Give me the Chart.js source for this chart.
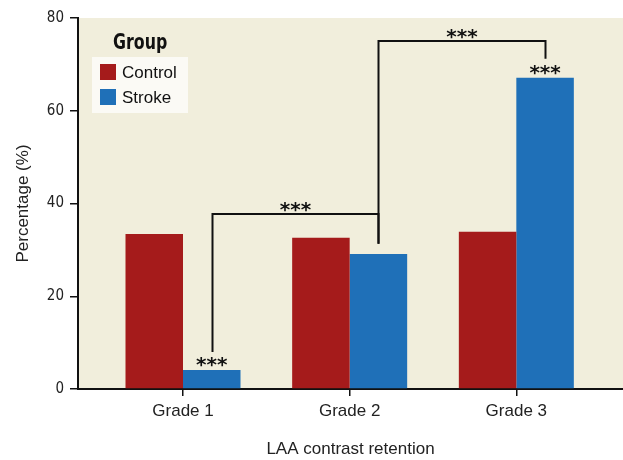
<!DOCTYPE html>
<html>
<head>
<meta charset="utf-8">
<script src="https://cdn.jsdelivr.net/npm/chart.js@4"></script>
<style>
  html, body { margin: 0; padding: 0; background: #fff; }
  #wrap { width: 623px; height: 460px; }
</style>
</head>
<body>
<div id="wrap"><canvas id="laaChart" width="623" height="460"></canvas></div>
<script>
const grades = ['Grade 1', 'Grade 2', 'Grade 3'];
const controlPct = [33.4, 32.6, 33.9];
const strokePct = [4.1, 29.1, 67.1];
const yTicks = [0, 20, 40, 60, 80];
// significance brackets: from (grade, stroke bar) to (grade, stroke bar), heights in %
const bracketFrom = [0, 1];
const bracketTo = [1, 2];
const bracketStart = [8.0, 31.3];
const bracketTop = [37.8, 75.0];
const bracketEnd = [31.3, 71.2];
const barStars = ['***', '', '***'];

const condensed = '"Liberation Sans Narrow", "DejaVu Sans Condensed", sans-serif';
const regular = '"Liberation Sans", Arial, sans-serif';

const bgPlugin = {
  id: 'bg',
  beforeDraw(chart) {
    const { ctx, chartArea: a } = chart;
    ctx.save();
    ctx.fillStyle = '#f1eedc';
    ctx.fillRect(a.left, a.top, a.right - a.left, a.bottom - a.top);
    ctx.restore();
  }
};

const marksPlugin = {
  id: 'marks',
  afterDatasetsDraw(chart) {
    const { ctx } = chart;
    const y = chart.scales.y;
    const meta = chart.getDatasetMeta(1);
    const cx = i => meta.data[i].x;

    ctx.save();
    ctx.strokeStyle = '#111';
    ctx.lineWidth = 2;
    ctx.fillStyle = '#111';
    ctx.font = 'bold 20px "DejaVu Sans", sans-serif';
    ctx.textAlign = 'center';
    ctx.textBaseline = 'alphabetic';
    for (let i = 0; i < bracketFrom.length; i++) {
      const x1 = Math.round(cx(bracketFrom[i])) + 0.5;
      const x2 = Math.round(cx(bracketTo[i])) + 0.5;
      const yt = Math.round(y.getPixelForValue(bracketTop[i]));
      ctx.beginPath();
      ctx.moveTo(x1, y.getPixelForValue(bracketStart[i]));
      ctx.lineTo(x1, yt);
      ctx.lineTo(x2, yt);
      ctx.lineTo(x2, y.getPixelForValue(bracketEnd[i]));
      ctx.stroke();
      ctx.fillText('***', (x1 + x2) / 2, yt + 2);
    }
    barStars.forEach((s, i) => {
      if (!s) return;
      ctx.fillText(s, cx(i), y.getPixelForValue(strokePct[i]) + 1);
    });

    // legend
    ctx.fillStyle = '#fbfaf5';
    ctx.fillRect(92, 57, 96, 56);
    ctx.fillStyle = '#111';
    ctx.save();
    ctx.translate(113, 49);
    ctx.scale(0.8, 1);
    ctx.font = 'bold 22px ' + condensed;
    ctx.textAlign = 'left';
    ctx.fillText('Group', 0, 0);
    ctx.restore();
    ctx.font = '17px ' + regular;
    ctx.textAlign = 'left';
    ctx.textBaseline = 'middle';
    chart.data.datasets.forEach((ds, i) => {
      const top = 64 + i * 25;
      ctx.fillStyle = ds.backgroundColor;
      ctx.fillRect(100, top, 16, 16);
      ctx.fillStyle = '#111';
      ctx.fillText(ds.label, 122, top + 9);
    });
    ctx.restore();
  }
};

new Chart(document.getElementById('laaChart'), {
  type: 'bar',
  data: {
    datasets: [
      {
        label: 'Control',
        data: controlPct.map((v, i) => ({ x: i, y: v })),
        backgroundColor: '#a51b1b'
      },
      {
        label: 'Stroke',
        data: strokePct.map((v, i) => ({ x: i, y: v })),
        backgroundColor: '#1f70b8'
      }
    ]
  },
  options: {
    responsive: false,
    animation: false,
    layout: { padding: { top: 18, right: 0, left: 0, bottom: 0 } },
    categoryPercentage: 0.69,
    barPercentage: 1.0,
    plugins: { legend: { display: false }, tooltip: { enabled: false } },
    scales: {
      x: {
        type: 'linear',
        offset: false,
        min: -0.63,
        max: 2.64,
        afterBuildTicks: s => { s.ticks = grades.map((g, i) => ({ value: i })); },
        afterFit: s => { s.height = 71; },
        ticks: {
          callback: v => grades[v],
          color: '#222',
          font: { family: regular, size: 17 },
          padding: 5,
          autoSkip: false,
          maxRotation: 0
        },
        grid: { offset: false, drawOnChartArea: false, drawTicks: true, tickLength: 7, color: '#111', lineWidth: 1.5 },
        border: { display: true, color: '#111', width: 2 },
        title: {
          display: true,
          text: 'LAA contrast retention',
          color: '#222',
          font: { family: regular, size: 17 },
          padding: { top: 18, bottom: 0 }
        }
      },
      y: {
        min: 0,
        max: 80,
        afterBuildTicks: s => { s.ticks = yTicks.map(v => ({ value: v })); },
        afterFit: s => { s.width = 78; },
        ticks: {
          color: '#222',
          font: { family: condensed, size: 15 },
          padding: 6
        },
        grid: { drawOnChartArea: false, drawTicks: true, tickLength: 8, color: '#111', lineWidth: 1.5 },
        border: { display: true, color: '#111', width: 2 },
        title: {
          display: true,
          text: 'Percentage (%)',
          color: '#222',
          font: { family: regular, size: 17 },
          padding: { top: 13, bottom: 0 }
        }
      }
    }
  },
  plugins: [bgPlugin, marksPlugin]
});
</script>
</body>
</html>
